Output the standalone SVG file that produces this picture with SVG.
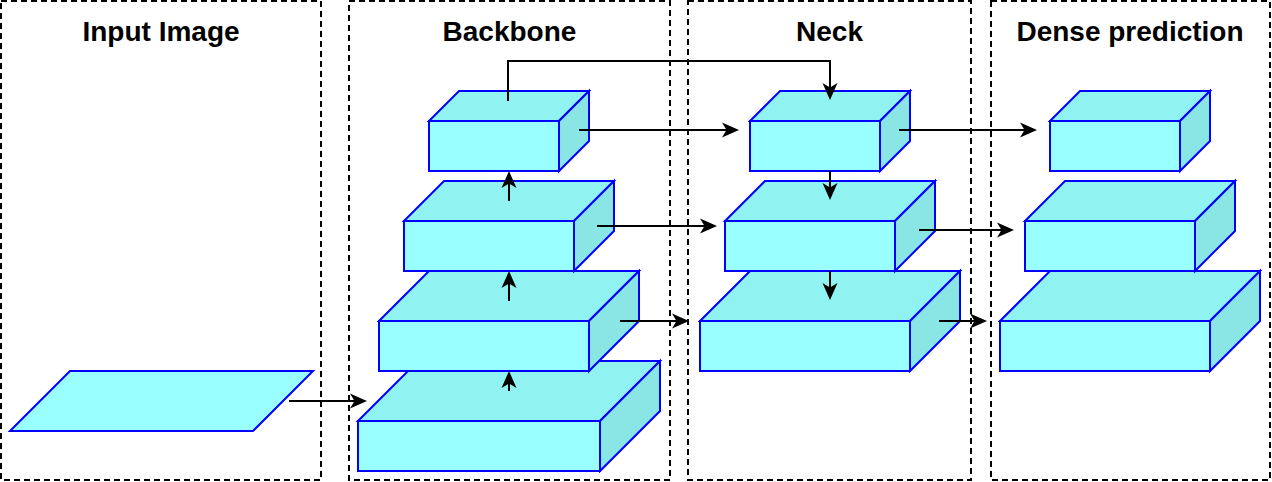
<svg xmlns="http://www.w3.org/2000/svg" width="1272" height="482" viewBox="0 0 1272 482">
<style>
.panel{fill:none;stroke:#000;stroke-width:2;stroke-dasharray:6 4}
.title{font-family:"Liberation Sans",Arial,sans-serif;font-weight:bold;font-size:28px;fill:#000;text-anchor:middle}
.front{fill:#99FFFF;stroke:#0000FF;stroke-width:2;stroke-linejoin:miter}
.top{fill:#91F2F2;stroke:#0000FF;stroke-width:2;stroke-linejoin:miter}
.side{fill:#8AE5E5;stroke:#0000FF;stroke-width:2;stroke-linejoin:miter}
.conn{fill:none;stroke:#000;stroke-width:2}
</style>
<defs>
<marker id="arr" markerUnits="userSpaceOnUse" markerWidth="18" markerHeight="16" refX="7" refY="7.5" orient="auto" overflow="visible">
<path d="M0,0 L17,7.5 L0,15 L4.5,7.5 Z" fill="#000"/>
</marker>
</defs>
<rect width="1272" height="482" fill="#fff"/>
<g id="panel-input"><rect class="panel" x="1" y="1" width="320" height="479"/><text class="title" x="161" y="41">Input Image</text></g>
<g id="panel-backbone"><rect class="panel" x="349" y="1" width="321" height="479"/><text class="title" x="509.5" y="41">Backbone</text></g>
<g id="panel-neck"><rect class="panel" x="688" y="1" width="283" height="479"/><text class="title" x="829.5" y="41">Neck</text></g>
<g id="panel-dense"><rect class="panel" x="991" y="1" width="279" height="479"/><text class="title" x="1130" y="41">Dense prediction</text></g>

<g id="input-image"><polygon class="front" points="10,431 70,371 313,371 253,431"/></g>

<g id="b1"><polygon class="top" points="358,421 418,361 660,361 600,421"/><polygon class="side" points="600,421 660,361 660,411 600,471"/><rect class="front" x="358" y="421" width="242" height="50"/></g>
<g id="b2"><polygon class="top" points="379,321 429,271 639,271 589,321"/><polygon class="side" points="589,321 639,271 639,321 589,371"/><rect class="front" x="379" y="321" width="210" height="50"/></g>
<g id="b3"><polygon class="top" points="404,221 444,181 614,181 574,221"/><polygon class="side" points="574,221 614,181 614,231 574,271"/><rect class="front" x="404" y="221" width="170" height="50"/></g>
<g id="b4"><polygon class="top" points="429,121 459,91 589,91 559,121"/><polygon class="side" points="559,121 589,91 589,141 559,171"/><rect class="front" x="429" y="121" width="130" height="50"/></g>

<g id="n1"><polygon class="top" points="700,321 750,271 960,271 910,321"/><polygon class="side" points="910,321 960,271 960,321 910,371"/><rect class="front" x="700" y="321" width="210" height="50"/></g>
<g id="n2"><polygon class="top" points="725,221 765,181 935,181 895,221"/><polygon class="side" points="895,221 935,181 935,231 895,271"/><rect class="front" x="725" y="221" width="170" height="50"/></g>
<g id="n3"><polygon class="top" points="750,121 780,91 910,91 880,121"/><polygon class="side" points="880,121 910,91 910,141 880,171"/><rect class="front" x="750" y="121" width="130" height="50"/></g>

<g id="d1"><polygon class="top" points="1000,321 1050,271 1260,271 1210,321"/><polygon class="side" points="1210,321 1260,271 1260,321 1210,371"/><rect class="front" x="1000" y="321" width="210" height="50"/></g>
<g id="d2"><polygon class="top" points="1025,221 1065,181 1235,181 1195,221"/><polygon class="side" points="1195,221 1235,181 1235,231 1195,271"/><rect class="front" x="1025" y="221" width="170" height="50"/></g>
<g id="d3"><polygon class="top" points="1050,121 1080,91 1210,91 1180,121"/><polygon class="side" points="1180,121 1210,91 1210,141 1180,171"/><rect class="front" x="1050" y="121" width="130" height="50"/></g>

<g id="connectors">
<path class="conn" marker-end="url(#arr)" d="M289,401 L357,401"/>
<path class="conn" marker-end="url(#arr)" d="M509,391 L509,381"/>
<path class="conn" marker-end="url(#arr)" d="M509,301 L509,281"/>
<path class="conn" marker-end="url(#arr)" d="M509,201 L509,181"/>
<path class="conn" marker-end="url(#arr)" d="M508,101 L508,61 L830,61 L830,90"/>
<path class="conn" marker-end="url(#arr)" d="M579,130 L729,130"/>
<path class="conn" marker-end="url(#arr)" d="M597,226 L707,226"/>
<path class="conn" marker-end="url(#arr)" d="M620,321 L679,321"/>
<path class="conn" marker-end="url(#arr)" d="M830,171 L830,190"/>
<path class="conn" marker-end="url(#arr)" d="M830,271 L830,290"/>
<path class="conn" marker-end="url(#arr)" d="M899,130 L1027,130"/>
<path class="conn" marker-end="url(#arr)" d="M919,230 L1004,230"/>
<path class="conn" marker-end="url(#arr)" d="M939,321 L977,321"/>
</g>
</svg>
